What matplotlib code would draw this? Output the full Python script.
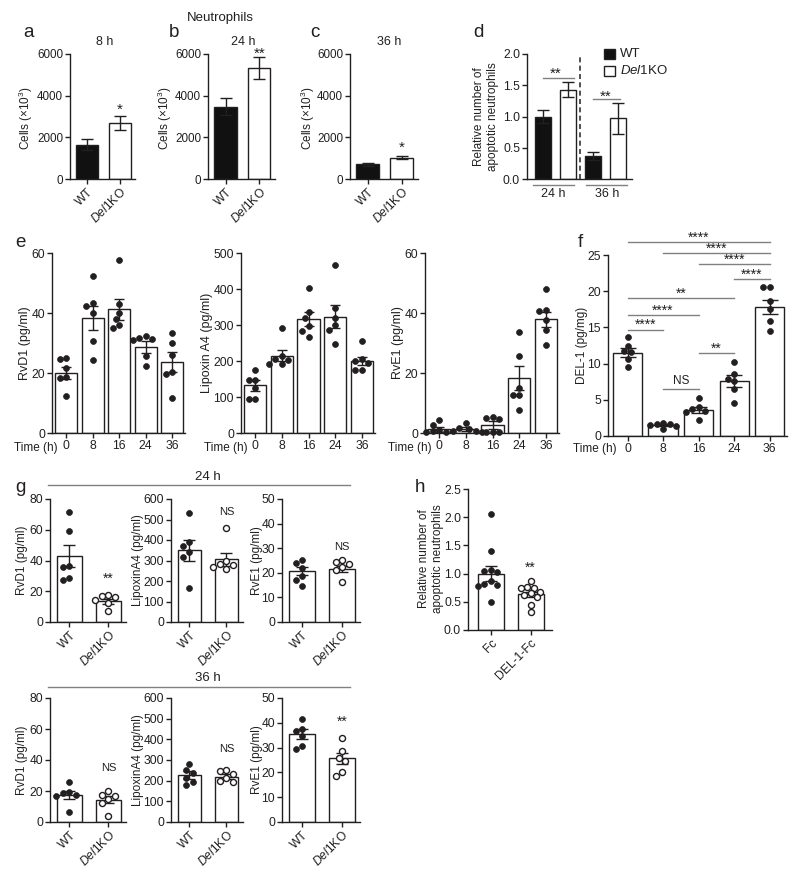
import numpy as np
import matplotlib
matplotlib.use('Agg')
import matplotlib.pyplot as plt
from matplotlib.patches import Rectangle
from matplotlib.lines import Line2D

plt.rcParams['font.family'] = ['Liberation Sans', 'DejaVu Sans']
plt.rcParams['mathtext.fontset'] = 'custom'
plt.rcParams['mathtext.rm'] = 'Liberation Sans'
plt.rcParams['mathtext.it'] = 'Liberation Sans:italic'
plt.rcParams['mathtext.bf'] = 'Liberation Sans:bold'

# ---------------- data ----------------
geno_labels = ['WT', r'$\it{Del1}$KO']
treat_labels = ['Fc', 'DEL-1-Fc']
time_labels = ['0', '8', '16', '24', '36']

# a-c: neutrophil counts (x10^3)
a_mean = [1650, 2680]; a_sem = [280, 350]
b_mean = [3480, 5330]; b_sem = [400, 510]
c_mean = [700, 1020]; c_sem = [60, 80]

# d: relative apoptotic neutrophils
d_groups = ['24 h', '36 h']
d_wt_mean = [1.00, 0.37]; d_wt_sem = [0.10, 0.07]
d_ko_mean = [1.43, 0.97]; d_ko_sem = [0.12, 0.25]

# e: lipid mediators over time
e_rvd1_mean = [20.0, 38.2, 41.3, 28.7, 23.7]
e_rvd1_sem = [2.0, 4.0, 3.5, 2.0, 3.3]
e_rvd1_pts = [[25.0, 24.8, 21.5, 18.5, 18.2, 12.3],
              [52.4, 43.2, 42.3, 39.9, 30.6, 24.4],
              [57.8, 43.0, 40.0, 38.0, 36.0, 35.0],
              [32.2, 31.8, 31.3, 31.0, 25.5, 22.4],
              [33.3, 30.0, 26.0, 20.3, 19.5, 11.5]]
e_lxa4_mean = [133, 215, 316, 323, 200]
e_lxa4_sem = [15, 15, 20, 32, 12]
e_lxa4_pts = [[174, 146, 146, 126, 95, 94],
              [291, 215, 206, 204, 193, 192],
              [402, 337, 319, 296, 282, 268],
              [468, 348, 320, 300, 285, 247],
              [256, 205, 200, 195, 175, 175]]
e_rve1_mean = [1.3, 1.3, 2.6, 18.5, 38.0]
e_rve1_sem = [0.8, 0.6, 1.3, 4.0, 2.5]
e_rve1_pts = [[4.2, 2.8, 1.0, 0.5, 0.3, 0.2],
              [3.3, 1.8, 1.2, 0.8, 0.5, 0.4],
              [5.4, 5.0, 4.6, 0.3, 0.2, 0.2],
              [33.7, 25.6, 14.9, 12.7, 12.7, 7.6],
              [48.0, 41.0, 40.5, 37.5, 34.2, 29.3]]

# f: DEL-1 over time
f_mean = [11.5, 1.5, 3.6, 7.6, 17.8]
f_sem = [0.6, 0.15, 0.4, 0.8, 1.0]
f_pts = [[13.7, 12.5, 11.7, 11.6, 10.6, 9.5],
         [1.8, 1.7, 1.6, 1.5, 1.4, 0.9],
         [5.2, 4.0, 3.7, 3.5, 3.3, 2.2],
         [10.2, 8.6, 7.9, 7.6, 6.5, 4.6],
         [20.6, 20.6, 18.6, 17.5, 15.9, 14.5]]
f_comparisons = [(0, 4), (1, 4), (2, 4), (3, 4), (0, 3), (0, 2), (0, 1), (2, 3), (1, 2)]
f_sig_labels = ['****', '****', '****', '****', '**', '****', '****', '**', 'NS']
f_sig_heights = [26.8, 25.3, 23.7, 21.7, 19.0, 16.7, 14.7, 11.4, 6.5]

# g: 24 h
g24_rvd1_wt = [71.8, 59.3, 36.3, 35.9, 28.3, 27.2]
g24_rvd1_ko = [17.4, 17.2, 16.5, 14.0, 12.5, 7.0]
g24_rvd1_mean = [43.0, 13.5]; g24_rvd1_sem = [7.0, 1.5]
g24_lxa4_wt = [530, 390, 370, 340, 315, 165]
g24_lxa4_ko = [458, 300, 285, 280, 270, 260]
g24_lxa4_mean = [350, 305]; g24_lxa4_sem = [50, 30]
g24_rve1_wt = [25.4, 24.0, 22.0, 18.5, 17.0, 14.8]
g24_rve1_ko = [25.4, 24.2, 23.6, 22.5, 21.0, 16.3]
g24_rve1_mean = [20.8, 21.5]; g24_rve1_sem = [1.7, 1.2]
# g: 36 h
g36_rvd1_wt = [25.7, 19.5, 18.8, 17.5, 16.5, 6.2]
g36_rvd1_ko = [20.3, 17.5, 16.9, 15.0, 12.0, 3.6]
g36_rvd1_mean = [17.5, 14.5]; g36_rvd1_sem = [2.8, 2.5]
g36_lxa4_wt = [281, 250, 235, 215, 195, 180]
g36_lxa4_ko = [252, 248, 230, 215, 200, 195]
g36_lxa4_mean = [227, 220]; g36_lxa4_sem = [20, 10]
g36_rve1_wt = [41.7, 37.5, 36.8, 34.5, 30.5, 29.5]
g36_rve1_ko = [34.0, 28.5, 26.0, 24.5, 20.3, 18.5]
g36_rve1_mean = [35.5, 25.7]; g36_rve1_sem = [1.9, 2.3]

# h: Fc vs DEL-1-Fc
h_fc = [2.05, 1.40, 1.07, 1.05, 1.02, 0.87, 0.82, 0.80, 0.78, 0.50]
h_del = [0.87, 0.77, 0.75, 0.74, 0.68, 0.65, 0.62, 0.58, 0.45, 0.32]
h_mean = [1.00, 0.63]; h_sem = [0.14, 0.04]

# ---------------- drawing ----------------
W, H = 800, 877
INK = '#231f20'
GREY = '#808080'
FS = 8.7
LFS = 8.5
fig = plt.figure(figsize=(W / 100, H / 100), dpi=100)


def ftext(x, y, s, **kw):
    kw.setdefault('color', INK)
    return fig.text(x / W, 1 - y / H, s, **kw)


def fline(x1, y1, x2, y2, **kw):
    fig.add_artist(Line2D([x1 / W, x2 / W], [1 - y1 / H, 1 - y2 / H],
                          transform=fig.transFigure, **kw))


def add_ax(l, t, r, b):
    ax = fig.add_axes([l / W, 1 - b / H, (r - l) / W, (b - t) / H])
    for s in ['top', 'right']:
        ax.spines[s].set_visible(False)
    for s in ['left', 'bottom']:
        ax.spines[s].set_linewidth(1.0)
        ax.spines[s].set_color(INK)
    ax.tick_params(direction='out', length=3.5, width=1.0, colors=INK,
                   labelsize=FS, pad=1.5)
    ax.patch.set_alpha(0)
    return ax


def bars(ax, means, sems, width, faces, capsize):
    xs = np.arange(len(means))
    ax.bar(xs, means, width, color=faces, edgecolor=INK, linewidth=1.0, zorder=2)
    ax.errorbar(xs, means, yerr=sems, fmt='none', ecolor=INK, elinewidth=1.0,
                capsize=capsize, capthick=1.0, zorder=4)


def swarm(ax, x0, vals, filled=True, dmin=6.5):
    vals = np.asarray(vals, float)
    T = ax.transData
    disp = T.transform(np.column_stack([np.full(len(vals), float(x0)), vals]))
    xc = disp[0, 0]
    ys = disp[:, 1]
    step = dmin * 0.5
    cands = [0.0]
    for k in range(1, 40):
        cands += [-k * step, k * step]
    placed = []
    xs = np.zeros(len(vals))
    for i in np.argsort(-ys):
        for c in cands:
            if all((c - px_) ** 2 + (ys[i] - py_) ** 2 >= dmin ** 2 for px_, py_ in placed):
                break
        placed.append((c, ys[i]))
        xs[i] = xc + c
    data = T.inverted().transform(np.column_stack([xs, ys]))
    if filled:
        ax.scatter(data[:, 0], data[:, 1], s=18, facecolor=INK, edgecolor=INK,
                   linewidths=0.5, zorder=5, clip_on=False)
    else:
        ax.scatter(data[:, 0], data[:, 1], s=19, facecolor='white', edgecolor=INK,
                   linewidths=1.0, zorder=5, clip_on=False)


def glyph(ax, x, y, s, fs=11):
    k = 0.575 if '*' in s else 0.36
    ax.annotate(s, (x, y), xytext=(0, -k * fs), textcoords='offset points',
                ha='center', va='baseline', fontsize=fs, color=INK,
                annotation_clip=False)


def rot_labels(ax, labels):
    ax.set_xticks(range(len(labels)))
    ax.set_xticklabels(labels, rotation=45, ha='right', va='top',
                       rotation_mode='anchor', fontsize=FS)


# ---- a, b, c ----
abc = [((70, 135), a_mean, a_sem, '8 h', '*', 3552, 105),
       ((208, 275), b_mean, b_sem, '24 h', '**', 6250, 243),
       ((350, 418), c_mean, c_sem, '36 h', '*', 1728, 389)]
for (l, r), m, se, ttl, st, sy, tx in abc:
    ax = add_ax(l, 54, r, 179)
    ax.set_xlim(-0.52, 1.47)
    ax.set_ylim(0, 6000)
    ax.set_yticks([0, 2000, 4000, 6000])
    ax.tick_params(axis='y', labelsize=8.4)
    bars(ax, m, se, 0.67, ['#111111', 'white'], 4)
    rot_labels(ax, geno_labels)
    glyph(ax, 1, sy, st)
    ftext(tx, 42, ttl, ha='center', va='center', fontsize=9)
for x, lab in [(28, 'a'), (174, 'b'), (315, 'c'), (478, 'd')]:
    ftext(x, 37, lab, ha='center', va='baseline', fontsize=13.5)
for x in [26, 165, 308]:
    ftext(x, 118, 'Cells (×10$^3$)', rotation=90, ha='center', va='center', fontsize=LFS)
ftext(220, 18, 'Neutrophils', ha='center', va='center', fontsize=9.5)

# ---- d ----
ax = add_ax(527, 54, 632, 179)
ax.set_xlim(-0.64, 3.54)
ax.set_ylim(0, 2.0)
ax.set_yticks([0, 0.5, 1.0, 1.5, 2.0])
ax.set_yticklabels(['0.0', '0.5', '1.0', '1.5', '2.0'])
d_means = [d_wt_mean[0], d_ko_mean[0], d_wt_mean[1], d_ko_mean[1]]
d_sems = [d_wt_sem[0], d_ko_sem[0], d_wt_sem[1], d_ko_sem[1]]
bars(ax, d_means, d_sems, 0.64, ['#111111', 'white', '#111111', 'white'], 4)
ax.set_xticks([])
ax.plot([1.48, 1.48], [0, 1.97], ls=(0, (3, 2)), color='#333333', lw=1.2, zorder=3)
ax.plot([0, 1.25], [1.62, 1.62], color=GREY, lw=1.0, clip_on=False)
ax.plot([2, 3.05], [1.28, 1.28], color=GREY, lw=1.0, clip_on=False)
glyph(ax, 0.5, 1.76, '**')
glyph(ax, 2.48, 1.39, '**')
fline(533, 185, 574, 185, color=GREY, lw=1.0)
fline(586, 185, 627, 185, color=GREY, lw=1.0)
ftext(553, 194, d_groups[0], ha='center', va='center', fontsize=9)
ftext(607, 194, d_groups[1], ha='center', va='center', fontsize=9)
ftext(486, 117, 'Relative number of\napoptotic neutrophils', rotation=90,
      ha='center', va='center', fontsize=LFS, linespacing=1.25)
fig.add_artist(Rectangle((604 / W, 1 - 59 / H), 11 / W, 10 / H, transform=fig.transFigure,
                         facecolor='#111111', edgecolor=INK, lw=1.0))
fig.add_artist(Rectangle((604 / W, 1 - 76 / H), 11 / W, 10 / H, transform=fig.transFigure,
                         facecolor='white', edgecolor=INK, lw=1.0))
ftext(620, 54, 'WT', ha='left', va='center', fontsize=9.5)
ftext(620, 71, geno_labels[1], ha='left', va='center', fontsize=9.5)

# ---- e ----
e_specs = [((52, 185), e_rvd1_mean, e_rvd1_sem, e_rvd1_pts, (0, 60), [0, 20, 40, 60], 'RvD1 (pg/ml)', 25),
           ((241, 375), e_lxa4_mean, e_lxa4_sem, e_lxa4_pts, (0, 500), [0, 100, 200, 300, 400, 500], 'Lipoxin A4 (pg/ml)', 207),
           ((425, 559), e_rve1_mean, e_rve1_sem, e_rve1_pts, (0, 60), [0, 20, 40, 60], 'RvE1 (pg/ml)', 398)]
for (l, r), m, se, pts, yl, yt, lab, lx in e_specs:
    ax = add_ax(l, 253, r, 433)
    ax.set_xlim(-0.53, 4.49)
    ax.set_ylim(*yl)
    ax.set_yticks(yt)
    bars(ax, m, se, 0.83, ['white'] * 5, 3.5)
    ax.set_xticks(range(5))
    ax.set_xticklabels(time_labels)
    for i, p in enumerate(pts):
        swarm(ax, i, p)
    x0 = l + (0 + 0.53) / 5.02 * (r - l)
    ftext(x0 - 8, 448, 'Time (h)', ha='right', va='center', fontsize=8.5)
    ftext(lx, 343, lab, rotation=90, ha='center', va='center', fontsize=9)
ftext(20, 247, 'e', ha='center', va='baseline', fontsize=13.5)

# ---- f ----
ax = add_ax(608, 255, 787, 436)
ax.set_xlim(-0.55, 4.49)
ax.set_ylim(0, 25)
ax.set_yticks([0, 5, 10, 15, 20, 25])
bars(ax, f_mean, f_sem, 0.82, ['white'] * 5, 5.5)
ax.set_xticks(range(5))
ax.set_xticklabels(time_labels)
for i, p in enumerate(f_pts):
    swarm(ax, i, p)
for (i, j), lab, yv in zip(f_comparisons, f_sig_labels, f_sig_heights):
    ax.plot([i, j], [yv, yv], color=GREY, lw=1.0, clip_on=False)
    if lab == 'NS':
        glyph(ax, (i + j) / 2, yv + 1.3, lab, fs=8.5)
    else:
        glyph(ax, (i + j) / 2, yv + 1.15, lab, fs=10)
ftext(617, 449, 'Time (h)', ha='right', va='center', fontsize=8.5)
ftext(582, 345, 'DEL-1 (pg/mg)', rotation=90, ha='center', va='center', fontsize=LFS)
ftext(580, 247, 'f', ha='center', va='baseline', fontsize=13.5)

# ---- g ----
g_rows = [
    (499, 622, '24 h', 477, 485,
     [(g24_rvd1_wt, g24_rvd1_ko, g24_rvd1_mean, g24_rvd1_sem, 80, 20, 'RvD1 (pg/ml)', '**', 30.6),
      (g24_lxa4_wt, g24_lxa4_ko, g24_lxa4_mean, g24_lxa4_sem, 600, 100, 'LipoxinA4 (pg/ml)', 'NS', 541),
      (g24_rve1_wt, g24_rve1_ko, g24_rve1_mean, g24_rve1_sem, 50, 10, 'RvE1 (pg/ml)', 'NS', 30.9)]),
    (698, 822, '36 h', 678, 687,
     [(g36_rvd1_wt, g36_rvd1_ko, g36_rvd1_mean, g36_rvd1_sem, 80, 20, 'RvD1 (pg/ml)', 'NS', 35.5),
      (g36_lxa4_wt, g36_lxa4_ko, g36_lxa4_mean, g36_lxa4_sem, 600, 100, 'LipoxinA4 (pg/ml)', 'NS', 358),
      (g36_rve1_wt, g36_rve1_ko, g36_rve1_mean, g36_rve1_sem, 50, 10, 'RvE1 (pg/ml)', '**', 41.9)])]
g_cols = [(50, 126, 22), (171, 243, 138), (282, 360, 257)]
for top, bot, ttl, ty, ly, panels in g_rows:
    ftext(208, ty, ttl, ha='center', va='center', fontsize=9.5)
    fline(48, ly, 350, ly, color=GREY, lw=1.0)
    for (l, r, lx), (wt, ko, m, se, ymax, ystep, lab, sig, sy) in zip(g_cols, panels):
        ax = add_ax(l, top, r, bot)
        ax.set_xlim(-0.5, 1.45)
        ax.set_ylim(0, ymax)
        ax.set_yticks(np.arange(0, ymax + 1, ystep))
        bars(ax, m, se, 0.64, ['white', 'white'], 4)
        swarm(ax, 0, wt, True)
        swarm(ax, 1, ko, False)
        rot_labels(ax, geno_labels)
        if sig == 'NS':
            glyph(ax, 1, sy, sig, fs=8)
        else:
            glyph(ax, 1, sy, sig, fs=10)
        ftext(lx, (top + bot) / 2, lab, rotation=90, ha='center', va='center', fontsize=LFS)
ftext(20, 492, 'g', ha='center', va='baseline', fontsize=13.5)

# ---- h ----
ax = add_ax(468, 489, 552, 630)
ax.set_xlim(-0.58, 1.54)
ax.set_ylim(0, 2.5)
ax.set_yticks([0, 0.5, 1.0, 1.5, 2.0, 2.5])
ax.set_yticklabels(['0.0', '0.5', '1.0', '1.5', '2.0', '2.5'])
bars(ax, h_mean, h_sem, 0.66, ['white', 'white'], 4.5)
swarm(ax, 0, h_fc, True)
swarm(ax, 1, h_del, False)
rot_labels(ax, treat_labels)
glyph(ax, 1, 1.17, '**', fs=10)
ftext(431, 559, 'Relative number of\napoptotic neutrophils', rotation=90,
      ha='center', va='center', fontsize=LFS, linespacing=1.2)
ftext(420, 492, 'h', ha='center', va='baseline', fontsize=13.5)

fig.savefig('out.png', dpi=100, facecolor='white')
